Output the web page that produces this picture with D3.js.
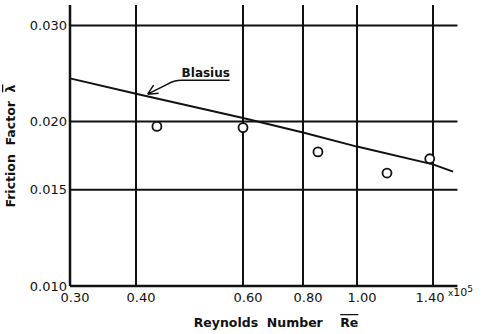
<!DOCTYPE html>
<html>
<head>
<meta charset="utf-8">
<script src="https://cdn.jsdelivr.net/npm/d3@7"></script>
<style>
  body { margin: 0; background: #fff; }
  text { font-family: "DejaVu Sans", sans-serif; fill: #111; }
</style>
</head>
<body>
<script>
// grid / tick values (Re in units of 10^5)
const xTicks = [0.30, 0.40, 0.60, 0.80, 1.00, 1.40];
const xTickLabels = ["0.30", "0.40", "0.60", "0.80", "1.00", "1.40"];
const yTicks = [0.010, 0.015, 0.020, 0.030];
const yTickLabels = ["0.010", "0.015", "0.020", "0.030"];

// measured points
const reMeasured = [0.433, 0.60, 0.851, 1.142, 1.38];
const fMeasured = [0.0196, 0.0195, 0.0176, 0.0161, 0.0171];

// Blasius curve as drawn
const reBlasius = [0.30, 0.40, 0.60, 0.80, 1.00, 1.40, 1.53];
const fBlasius = [0.0240, 0.0225, 0.0203, 0.0191, 0.0180, 0.0167, 0.0162];

const width = 482, height = 334;
const xEnd = 1.56, yTop = 0.0327;

const svg = d3.select("body").append("svg")
    .attr("width", width)
    .attr("height", height);

// hand-drawn log grid is not perfectly even, so a piecewise log scale
const x = d3.scaleLog()
    .domain(xTicks)
    .range([70, 136, 243, 303, 357, 433]);

const y = d3.scaleLog()
    .domain([0.010, yTop])
    .range([286, 5]);

const ink = "#111";

// horizontal lines
svg.append("g")
  .selectAll("line")
  .data(yTicks)
  .join("line")
    .attr("x1", x(0.30))
    .attr("x2", x(xEnd))
    .attr("y1", d => y(d))
    .attr("y2", d => y(d))
    .attr("stroke", ink)
    .attr("stroke-width", d => d === 0.010 ? 2.5 : 2);

// vertical lines
svg.append("g")
  .selectAll("line")
  .data(xTicks)
  .join("line")
    .attr("x1", d => x(d))
    .attr("x2", d => x(d))
    .attr("y1", y(yTop))
    .attr("y2", y(0.010))
    .attr("stroke", ink)
    .attr("stroke-width", d => d === 0.30 ? 2.5 : 2);

// y tick labels
svg.append("g")
  .selectAll("text")
  .data(yTicks)
  .join("text")
    .attr("x", x(0.30) - 3)
    .attr("y", d => y(d))
    .attr("dy", "0.35em")
    .attr("text-anchor", "end")
    .attr("font-size", 13)
    .text((d, i) => yTickLabels[i]);

// x tick labels (last one pulled left to leave room for the multiplier)
svg.append("g")
  .selectAll("text")
  .data(xTicks)
  .join("text")
    .attr("x", d => x(d) + (d === 1.40 ? -3 : 5))
    .attr("y", y(0.010) + 16)
    .attr("text-anchor", "middle")
    .attr("font-size", 13)
    .text((d, i) => xTickLabels[i]);

// x10^5 multiplier
const mult = svg.append("text")
    .attr("x", x(1.40) + 15)
    .attr("y", y(0.010) + 10)
    .attr("font-size", 11);
mult.append("tspan").attr("font-size", 9).text("x");
mult.append("tspan").text("10");
mult.append("tspan").attr("dy", -4).attr("font-size", 9).text("5");

// Blasius line
svg.append("path")
    .datum(reBlasius.map((r, i) => [r, fBlasius[i]]))
    .attr("fill", "none")
    .attr("stroke", ink)
    .attr("stroke-width", 2)
    .attr("d", d3.line().x(d => x(d[0])).y(d => y(d[1])));

// measured points
svg.append("g")
  .selectAll("circle")
  .data(reMeasured.map((r, i) => [r, fMeasured[i]]))
  .join("circle")
    .attr("cx", d => x(d[0]))
    .attr("cy", d => y(d[1]))
    .attr("r", 4.5)
    .attr("fill", "#fff")
    .attr("stroke", ink)
    .attr("stroke-width", 1.8);

// Blasius label with leader arrow
const tip = [x(0.418), y(0.02245)];
const lab = svg.append("g").attr("transform", `translate(${tip[0]},${tip[1]})`);
lab.append("text")
    .attr("x", 34)
    .attr("y", -17)
    .attr("font-size", 12)
    .attr("font-weight", "bold")
    .text("Blasius");
lab.append("path")
    .attr("fill", "none")
    .attr("stroke", ink)
    .attr("stroke-width", 1.5)
    .attr("d", "M82,-14 L34,-14 Q26,-14 20,-10 L0,0 M0,0 L6,-9 M0,0 L11,-1");

// axis titles
const xt = svg.append("text")
    .attr("x", 276)
    .attr("y", 327)
    .attr("text-anchor", "middle")
    .attr("font-size", 12.5)
    .attr("font-weight", "bold")
    .attr("xml:space", "preserve")
    .text("Reynolds  Number    ");
xt.append("tspan")
    .style("text-decoration", "overline")
    .text("Re");

const yt = svg.append("text")
    .attr("transform", `translate(15,146) rotate(-90)`)
    .attr("text-anchor", "middle")
    .attr("font-size", 12.5)
    .attr("font-weight", "bold")
    .attr("xml:space", "preserve")
    .text("Friction  Factor  ");
yt.append("tspan")
    .style("text-decoration", "overline")
    .text("λ");
</script>
</body>
</html>
